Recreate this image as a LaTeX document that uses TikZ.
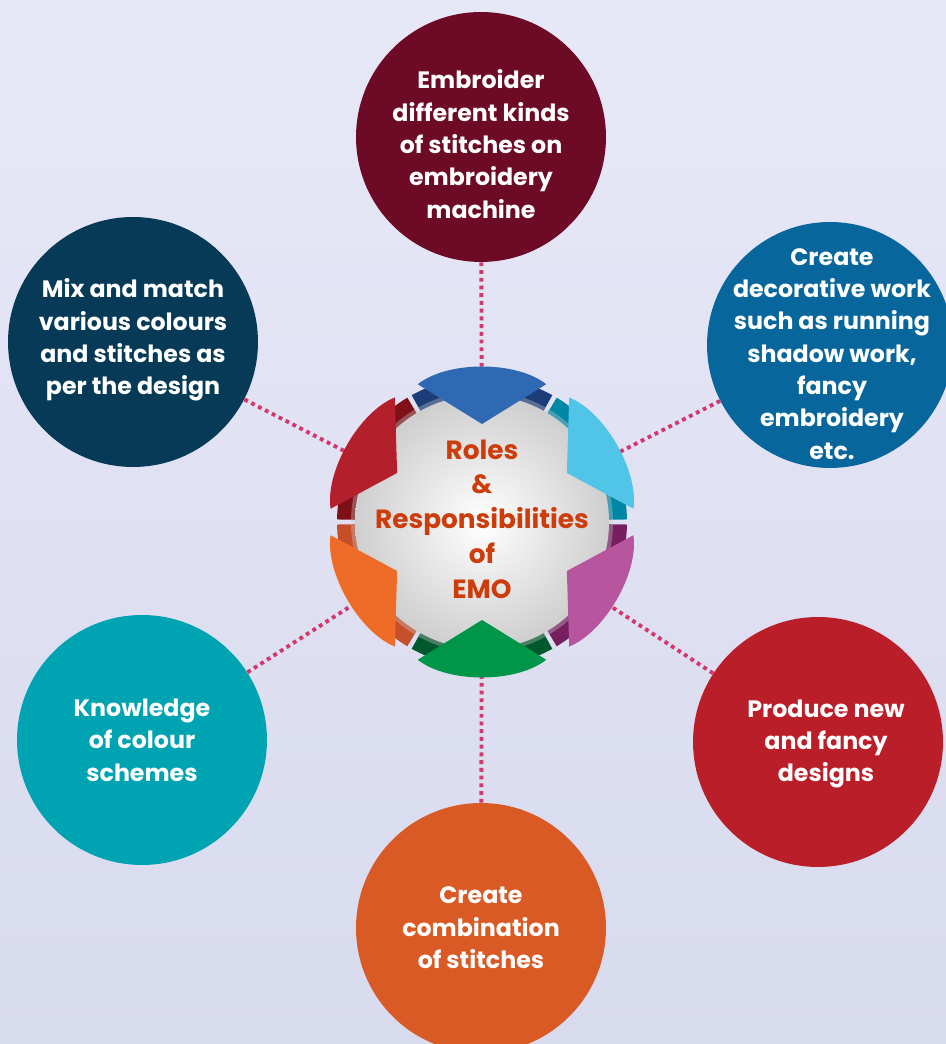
\documentclass[tikz,border=0pt]{standalone}
\usepackage{fontspec}
\setmainfont{Poppins}
\usetikzlibrary{positioning}

\definecolor{bgtop}{HTML}{E7E8F7}
\definecolor{bgbot}{HTML}{D8DAEE}
\definecolor{wine}{HTML}{6D0A26}
\definecolor{navy}{HTML}{063A57}
\definecolor{ocean}{HTML}{07679C}
\definecolor{teal}{HTML}{00A3B1}
\definecolor{scarlet}{HTML}{BA1E29}
\definecolor{rust}{HTML}{DA5A25}
\definecolor{stitchpink}{HTML}{D2386C}
\definecolor{hubtext}{HTML}{CC3D0B}
\definecolor{petblue}{HTML}{2F69B4}
\definecolor{petblueD}{HTML}{1C3D78}
\definecolor{petcyan}{HTML}{50C5E7}
\definecolor{petcyanD}{HTML}{0087A6}
\definecolor{petmag}{HTML}{B8559F}
\definecolor{petmagD}{HTML}{771E61}
\definecolor{petgreen}{HTML}{00964A}
\definecolor{petgreenD}{HTML}{00582D}
\definecolor{petorange}{HTML}{EE6C28}
\definecolor{petorangeD}{HTML}{C54F28}
\definecolor{petred}{HTML}{B41F2C}
\definecolor{petredD}{HTML}{7E1018}

\begin{document}
\begin{tikzpicture}[x=0.02cm, y=0.02cm,
	bubble/.style={circle, minimum size=5cm, inner sep=0pt},
	bubtext/.style={text=white, align=center, inner sep=0pt, font=\bfseries\fontsize{13.5}{18.4}\selectfont},
	hubtxt/.style={text=hubtext, align=center, inner sep=0pt, font=\bfseries\fontsize{15}{19.8}\selectfont},
	stitch/.style={draw=stitchpink, line width=2.2pt, dash pattern=on 2.2pt off 2.2pt}]
	\clip (0,0) rectangle (946,1044);
	\shade[top color=bgtop, bottom color=bgbot] (0,0) rectangle (946,1044);
	\coordinate (hub) at (482,522);
	% outer circles
	\node[bubble, fill=wine] (top) at (481,907) {};
	\node[bubble, fill=navy] (tl) at (133,702) {};
	\node[bubble, fill=ocean, minimum size=4.92cm] (tr) at (830,699) {};
	\node[bubble, fill=teal] (bl) at (142,304) {};
	\node[bubble, fill=scarlet] (br) at (818,302) {};
	\node[bubble, fill=rust] (bot) at (481,116) {};
	% connectors
	\foreach \c in {top,tl,tr,bl,br,bot} {
		\draw[stitch] (\c) -- (hub);
	};
	% petals
	\begin{scope}[shift={(hub)}]
		\foreach \a/\fc/\dc in {90/petblue/petblueD, 30/petcyan/petcyanD, -30/petmag/petmagD, -90/petgreen/petgreenD, -150/petorange/petorangeD, 150/petred/petredD} {
			\fill[\dc] ({\a-29}:115) -- ({\a-29}:145) arc[start angle=\a-29, end angle=\a+29, radius=145]
				-- ({\a+29}:115) arc[start angle=\a+29, end angle=\a-29, radius=115] -- cycle;
		};
		\fill[gray!40, opacity=0.35] (0,0) circle[radius=131];
		\shade[inner color=white, outer color=gray!38] (0,0) circle[radius=127];
		\foreach \a/\fc in {90/petblue, 30/petcyan, -30/petmag, -90/petgreen, -150/petorange, 150/petred} {
			\fill[\fc] ({\a-25}:152) .. controls ({\a-12}:165) and ({\a+12}:165) .. ({\a+25}:152) -- (\a:98) -- cycle;
		};
	\end{scope}
	% texts
	\node[hubtxt] (hubt) at (482,525) {Roles\\\&\\Responsibilities\\of\\EMO};
	\node[bubtext] (ttop) at (481,900) {Embroider\\different kinds\\of stitches on\\embroidery\\machine};
	\node[bubtext] (ttl) at (133,704) {Mix and match\\various colours\\and stitches as\\per the design};
	\node[bubtext] (ttr) at (832,690) {Create\\decorative work\\such as running\\shadow work,\\fancy\\embroidery\\etc.};
	\node[bubtext] (tbl) at (142,304) {Knowledge\\of colour\\schemes};
	\node[bubtext] (tbr) at (826,300) {Produce new\\and fancy\\designs};
	\node[bubtext] (tbot) at (481,116) {Create\\combination\\of stitches};
\end{tikzpicture}
\end{document}
